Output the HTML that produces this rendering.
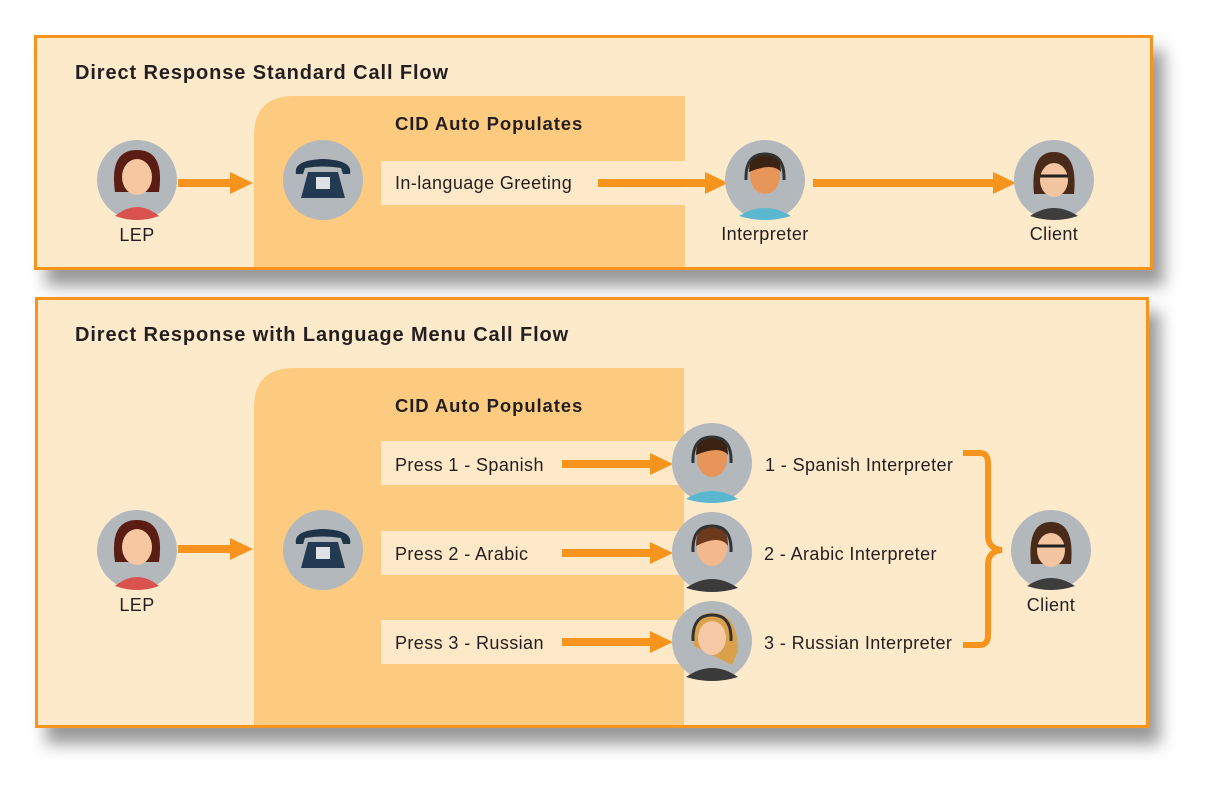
<!DOCTYPE html>
<html><head><meta charset="utf-8"><style>
html,body{margin:0;padding:0;background:#fff;width:1220px;height:794px;overflow:hidden}
svg{display:block}
text{font-family:"Liberation Sans",Arial,sans-serif;fill:#231f20}
</style></head><body>
<svg width="1220" height="794" viewBox="0 0 1220 794" xmlns="http://www.w3.org/2000/svg">
<defs>
<filter id="sh" x="-5%" y="-10%" width="115%" height="130%"><feGaussianBlur stdDeviation="8"/></filter>
</defs>
<rect x="46" y="50" width="1118" height="236" fill="#555" opacity="0.6" filter="url(#sh)"/>
<rect x="46" y="312" width="1114" height="432" fill="#555" opacity="0.6" filter="url(#sh)"/>
<rect x="35.5" y="36.5" width="1116" height="232" fill="#fdeacb" stroke="#f7941d" stroke-width="3"/>
<rect x="36.5" y="298.5" width="1111" height="428" fill="#fdeacb" stroke="#f7941d" stroke-width="3"/>
<path d="M254 267 V136 Q254 96 294 96 H685 V267 Z" fill="#fdcb80"/>
<path d="M254 725 V408 Q254 368 294 368 H684 V725 Z" fill="#fdcb80"/>
<rect x="381" y="161" width="304" height="44" fill="#fde9c8"/>
<rect x="381" y="441" width="303" height="44" fill="#fde9c8"/>
<rect x="381" y="531" width="303" height="44" fill="#fde9c8"/>
<rect x="381" y="620" width="303" height="44" fill="#fde9c8"/>
<text x="75" y="79" font-size="20" font-weight="bold" letter-spacing="0.9">Direct Response Standard Call Flow</text>
<text x="75" y="341" font-size="20" font-weight="bold" letter-spacing="0.9">Direct Response with Language Menu Call Flow</text>
<text x="395" y="130" font-size="18.5" font-weight="bold" letter-spacing="0.9">CID Auto Populates</text>
<text x="395" y="412" font-size="18.5" font-weight="bold" letter-spacing="0.9">CID Auto Populates</text>
<g font-size="18" letter-spacing="0.4">
<text x="395" y="189">In-language Greeting</text>
<text x="395" y="471">Press 1 - Spanish</text>
<text x="395" y="560">Press 2 - Arabic</text>
<text x="395" y="649">Press 3 - Russian</text>
<text x="765" y="471">1 - Spanish Interpreter</text>
<text x="764" y="560">2 - Arabic Interpreter</text>
<text x="764" y="649">3 - Russian Interpreter</text>
<text x="137" y="241" text-anchor="middle">LEP</text>
<text x="765" y="240" text-anchor="middle">Interpreter</text>
<text x="1054" y="240" text-anchor="middle">Client</text>
<text x="137" y="611" text-anchor="middle">LEP</text>
<text x="1051" y="611" text-anchor="middle">Client</text>
</g>
<g fill="#f7941d" stroke="none">
<path d="M178 179 H230 V172 L253 183 L230 194 V187 H178 Z"/>
<path d="M598 179 H705 V172 L728 183 L705 194 V187 H598 Z"/>
<path d="M813 179 H993 V172 L1016 183 L993 194 V187 H813 Z"/>
<path d="M178 545 H230 V538 L253 549 L230 560 V553 H178 Z"/>
<path d="M562 460 H650 V453 L673 464 L650 475 V468 H562 Z"/>
<path d="M562 549 H650 V542 L673 553 L650 564 V557 H562 Z"/>
<path d="M562 638 H650 V631 L673 642 L650 653 V646 H562 Z"/>
</g>
<path d="M963 453 H980 Q988 453 988 463 V535 Q988 549 1002 550 Q988 551 988 565 V635 Q988 645 980 645 H963" fill="none" stroke="#f7941d" stroke-width="6"/>
<g>
 <g transform="translate(137,180)"><circle r="40" fill="#b3b8bd"/><path d="M-22 12 Q-28 -30 0 -30 Q28 -30 22 12 Z" fill="#5a1d14"/><ellipse cy="-3" rx="15" ry="18" fill="#f6c7a1"/><path d="M-22 36 Q0 18 22 36 Q0 44 -22 36Z" fill="#d9524f"/></g>
 <g transform="translate(137,550)"><circle r="40" fill="#b3b8bd"/><path d="M-22 12 Q-28 -30 0 -30 Q28 -30 22 12 Z" fill="#5a1d14"/><ellipse cy="-3" rx="15" ry="18" fill="#f6c7a1"/><path d="M-22 36 Q0 18 22 36 Q0 44 -22 36Z" fill="#d9524f"/></g>
 <g transform="translate(323,180)"><circle r="40" fill="#b3b8bd"/><path d="M-27 -6 Q-30 -20 0 -21 Q30 -20 27 -6 L20 -6 L18 -12 Q0 -15 -18 -12 L-20 -6Z" fill="#1f3349"/><path d="M-15 -8 H15 L22 18 H-22Z" fill="#243a52"/><rect x="-7" y="-3" width="14" height="12" fill="#fff" opacity="0.85"/></g>
 <g transform="translate(323,550)"><circle r="40" fill="#b3b8bd"/><path d="M-27 -6 Q-30 -20 0 -21 Q30 -20 27 -6 L20 -6 L18 -12 Q0 -15 -18 -12 L-20 -6Z" fill="#1f3349"/><path d="M-15 -8 H15 L22 18 H-22Z" fill="#243a52"/><rect x="-7" y="-3" width="14" height="12" fill="#fff" opacity="0.85"/></g>
 <g transform="translate(765,180)"><circle r="40" fill="#b3b8bd"/><ellipse cy="-4" rx="15" ry="18" fill="#e8955a"/><path d="M-16 -8 Q-16 -28 0 -27 Q16 -28 16 -8 Q8 -18 -16 -8Z" fill="#3b2314"/><path d="M-26 36 Q0 20 26 36 Q0 44 -26 36Z" fill="#5bb7cf"/><path d="M-19 0 Q-20 -26 0 -26 Q20 -26 19 0" fill="none" stroke="#333" stroke-width="3"/></g>
 <g transform="translate(712,463)"><circle r="40" fill="#b3b8bd"/><ellipse cy="-4" rx="15" ry="18" fill="#e8955a"/><path d="M-16 -8 Q-16 -28 0 -27 Q16 -28 16 -8 Q8 -18 -16 -8Z" fill="#3b2314"/><path d="M-26 36 Q0 20 26 36 Q0 44 -26 36Z" fill="#5bb7cf"/><path d="M-19 0 Q-20 -26 0 -26 Q20 -26 19 0" fill="none" stroke="#333" stroke-width="3"/></g>
 <g transform="translate(712,552)"><circle r="40" fill="#b3b8bd"/><ellipse cy="-4" rx="15" ry="18" fill="#f3b98c"/><path d="M-16 -6 Q-16 -28 0 -27 Q16 -28 16 -6 Q8 -18 -16 -6Z" fill="#6b3a1c"/><path d="M-26 36 Q0 18 26 36 Q0 44 -26 36Z" fill="#3a3a3a"/><path d="M-19 0 Q-20 -26 0 -26 Q20 -26 19 0" fill="none" stroke="#333" stroke-width="3"/></g>
 <g transform="translate(712,641)"><circle r="40" fill="#b3b8bd"/><path d="M-18 5 Q-22 -28 0 -28 Q26 -28 26 10 L20 24 Z" fill="#d9a24a"/><ellipse cy="-3" rx="14" ry="17" fill="#f6c9a6"/><path d="M-26 36 Q0 18 26 36 Q0 44 -26 36Z" fill="#3a3a3a"/><path d="M-19 0 Q-20 -26 0 -26 Q20 -26 19 0" fill="none" stroke="#333" stroke-width="3"/></g>
 <g transform="translate(1054,180)"><circle r="40" fill="#b3b8bd"/><path d="M-20 14 Q-24 -28 0 -28 Q24 -28 20 14Z" fill="#4a2a18"/><ellipse cy="0" rx="14" ry="17" fill="#f3c5a0"/><path d="M-14 -4 H14" stroke="#222" stroke-width="3"/><path d="M-24 36 Q0 20 24 36 Q0 44 -24 36Z" fill="#3d3d3d"/></g>
 <g transform="translate(1051,550)"><circle r="40" fill="#b3b8bd"/><path d="M-20 14 Q-24 -28 0 -28 Q24 -28 20 14Z" fill="#4a2a18"/><ellipse cy="0" rx="14" ry="17" fill="#f3c5a0"/><path d="M-14 -4 H14" stroke="#222" stroke-width="3"/><path d="M-24 36 Q0 20 24 36 Q0 44 -24 36Z" fill="#3d3d3d"/></g>
</g>
</svg>
</body></html>
